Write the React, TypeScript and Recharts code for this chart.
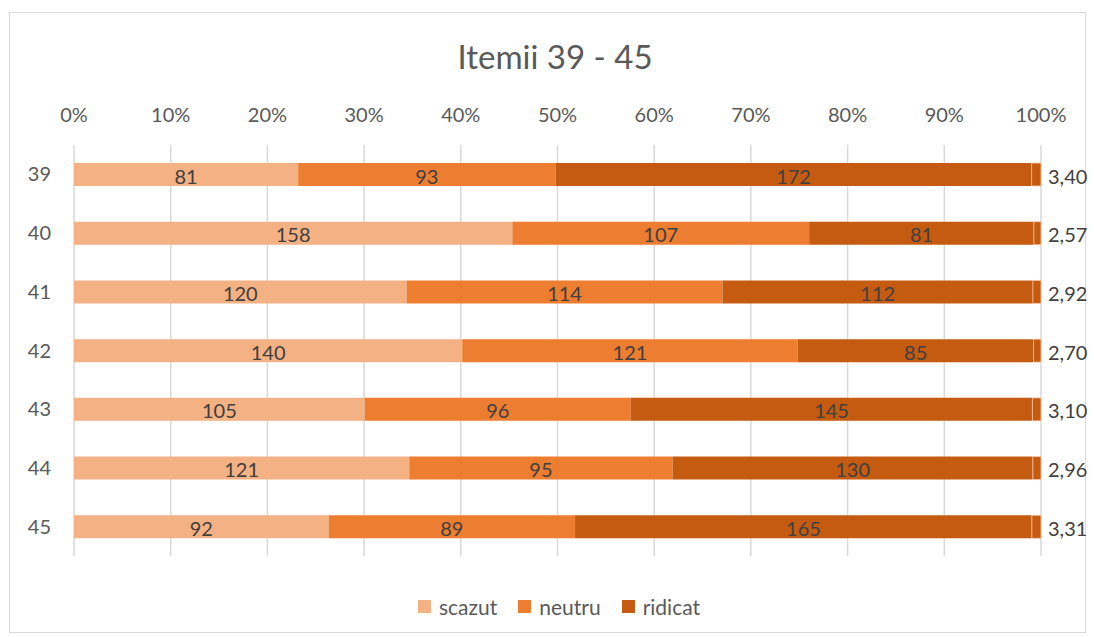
import React from 'react';
import { BarChart, Bar, XAxis, YAxis, CartesianGrid, LabelList, Legend } from 'recharts';

const categories = ['39', '40', '41', '42', '43', '44', '45'];
const scazut = [81, 158, 120, 140, 105, 121, 92];
const neutru = [93, 107, 114, 121, 96, 95, 89];
const ridicat = [172, 81, 112, 85, 145, 130, 165];
const medie = [3.4, 2.57, 2.92, 2.7, 3.1, 2.96, 3.31];
const xTicks = [0, 0.1, 0.2, 0.3, 0.4, 0.5, 0.6, 0.7, 0.8, 0.9, 1];

const data = categories.map((c, i) => ({
  cat: c,
  scazut: scazut[i],
  neutru: neutru[i],
  ridicat: ridicat[i],
  medie: medie[i],
}));

const FONT = 'Lato, "Open Sans", sans-serif';
const TEXT = '#595959';
const LABEL = '#404040';

const legendItems = [
  { name: 'scazut', color: '#F4B183' },
  { name: 'neutru', color: '#ED7D31' },
  { name: 'ridicat', color: '#C55A11' },
];

const makeCenterLabel = (arr: number[]) => (p: any) => {
  const { x, y, width, height, index } = p;
  return (
    <text
      x={Number(x) + Number(width) / 2}
      y={Number(y) + Number(height) / 2 + 1}
      textAnchor="middle"
      dominantBaseline="central"
      fill={LABEL}
      fontSize={20}
      fontFamily={FONT}
    >
      {arr[index]}
    </text>
  );
};

const meanLabel = (p: any) => {
  const { x, y, width, height, index } = p;
  return (
    <text
      x={Number(x) + Number(width) + 7}
      y={Number(y) + Number(height) / 2 + 1}
      textAnchor="start"
      dominantBaseline="central"
      fill={LABEL}
      fontSize={20}
      fontFamily={FONT}
    >
      {medie[index].toFixed(2).replace('.', ',')}
    </text>
  );
};

const renderLegend = () => (
  <div
    style={{
      display: 'flex',
      justifyContent: 'center',
      alignItems: 'center',
      fontFamily: FONT,
      fontSize: 21,
      lineHeight: '25px',
      color: TEXT,
      paddingLeft: 24,
    }}
  >
    {legendItems.map((it, i) => (
      <div
        key={it.name}
        style={{ display: 'flex', alignItems: 'center', marginRight: i < legendItems.length - 1 ? 21 : 0 }}
      >
        <span style={{ display: 'inline-block', width: 13, height: 13, background: it.color, marginRight: 8 }} />
        <span>{it.name}</span>
      </div>
    ))}
  </div>
);

export default function App() {
  return (
    <div style={{ position: 'fixed', left: 0, top: 0, width: 1094, height: 637, background: '#fff' }}>
      <div
        style={{
          position: 'absolute',
          left: 9,
          top: 12,
          width: 1077,
          height: 621,
          border: '1px solid #d9d9d9',
          boxSizing: 'border-box',
        }}
      />
      <div
        style={{
          position: 'absolute',
          left: 0,
          top: 36,
          width: 1110,
          textAlign: 'center',
          fontFamily: FONT,
          fontSize: 33,
          color: TEXT,
          lineHeight: '40px',
        }}
      >
        Itemii 39 - 45
      </div>
      <div style={{ position: 'absolute', left: 0, top: 0 }}>
        <BarChart
          width={1094}
          height={637}
          data={data}
          layout="vertical"
          stackOffset="expand"
          margin={{ top: 100, right: 53, bottom: 81, left: 20 }}
          barSize={23}
        >
          <CartesianGrid horizontal={false} stroke="#d9d9d9" strokeWidth={1.5} />
          <XAxis
            type="number"
            orientation="top"
            domain={[0, 1]}
            ticks={xTicks}
            tickFormatter={(v: number) => `${Math.round(v * 100)}%`}
            axisLine={false}
            tickLine={false}
            tickMargin={17}
            height={45}
            tick={{ fill: TEXT, fontSize: 20, fontFamily: FONT }}
            interval={0}
          />
          <YAxis
            type="category"
            dataKey="cat"
            width={54}
            axisLine={false}
            tickLine={false}
            tickMargin={17}
            tick={{ fill: TEXT, fontSize: 20, fontFamily: FONT }}
          />
          <Legend
            verticalAlign="middle"
            layout="horizontal"
            content={renderLegend}
            wrapperStyle={{ top: 594, left: 0, width: 1094 }}
          />
          <Bar dataKey="scazut" stackId="a" fill="#F4B183" isAnimationActive={false}>
            <LabelList dataKey="scazut" content={makeCenterLabel(scazut)} />
          </Bar>
          <Bar dataKey="neutru" stackId="a" fill="#ED7D31" isAnimationActive={false}>
            <LabelList dataKey="neutru" content={makeCenterLabel(neutru)} />
          </Bar>
          <Bar dataKey="ridicat" stackId="a" fill="#C55A11" isAnimationActive={false}>
            <LabelList dataKey="ridicat" content={makeCenterLabel(ridicat)} />
          </Bar>
          <Bar
            dataKey="medie"
            stackId="a"
            fill="#C55A11"
            stroke="#F8CBAD"
            strokeWidth={0.8}
            legendType="none"
            isAnimationActive={false}
          >
            <LabelList dataKey="medie" content={meanLabel} />
          </Bar>
        </BarChart>
      </div>
    </div>
  );
}
